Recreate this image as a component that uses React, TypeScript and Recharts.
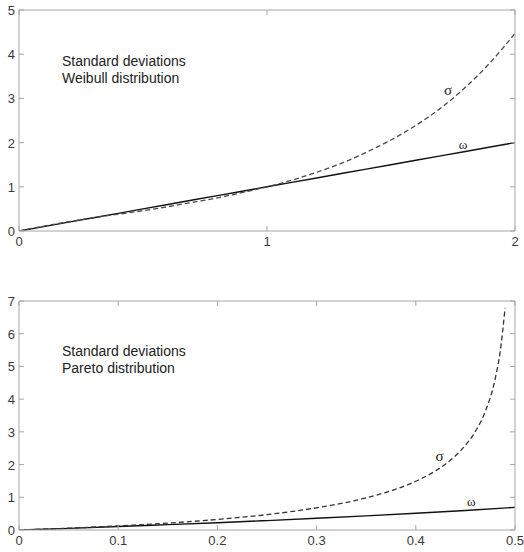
import React from 'react';
import { LineChart, Line, XAxis, YAxis, ReferenceDot } from 'recharts';

// Top panel: Weibull distribution
const weibullX = [0, 0.1, 0.2, 0.3, 0.4, 0.5, 0.6, 0.7, 0.8, 0.9, 1.0, 1.1, 1.2, 1.3, 1.4, 1.5, 1.6, 1.7, 1.8, 1.9, 2.0];
const weibullSigma = [0, 0.11, 0.21, 0.3, 0.38, 0.46, 0.55, 0.65, 0.75, 0.87, 1.0, 1.15, 1.33, 1.53, 1.78, 2.06, 2.39, 2.78, 3.25, 3.81, 4.47];
const weibullOmega = [0, 0.1, 0.2, 0.3, 0.4, 0.5, 0.6, 0.7, 0.8, 0.9, 1.0, 1.1, 1.2, 1.3, 1.4, 1.5, 1.6, 1.7, 1.8, 1.9, 2.0];
const weibullXTicks = [0, 1, 2];
const weibullYTicks = [0, 1, 2, 3, 4, 5];

// Bottom panel: Pareto distribution
const paretoSigmaX = [0, 0.05, 0.1, 0.15, 0.2, 0.25, 0.3, 0.35, 0.4, 0.42, 0.44, 0.45, 0.46, 0.47, 0.48, 0.485, 0.49];
const paretoSigma = [0, 0.056, 0.124, 0.211, 0.323, 0.471, 0.678, 0.983, 1.49, 1.81, 2.27, 2.59, 3.01, 3.62, 4.62, 5.44, 6.79];
const paretoOmegaX = [0, 0.05, 0.1, 0.15, 0.2, 0.25, 0.3, 0.35, 0.4, 0.45, 0.5];
const paretoOmega = [0, 0.051, 0.105, 0.163, 0.223, 0.288, 0.357, 0.431, 0.511, 0.598, 0.693];
const paretoXTicks = [0, 0.1, 0.2, 0.3, 0.4, 0.5];
const paretoYTicks = [0, 1, 2, 3, 4, 5, 6, 7];

const weibullData = weibullX.map((x, i) => ({ x, sigma: weibullSigma[i], omega: weibullOmega[i] }));
const paretoSigmaData = paretoSigmaX.map((x, i) => ({ x, sigma: paretoSigma[i] }));
const paretoOmegaData = paretoOmegaX.map((x, i) => ({ x, omega: paretoOmega[i] }));

const AXIS = '#a6a6a6';
const FONT = 'Liberation Sans, Arial, sans-serif';
const TICK_LEN = 5;

const BottomTick = (p: any) => (
  <g>
    <line x1={p.x} y1={p.y} x2={p.x} y2={p.y - TICK_LEN} stroke={AXIS} strokeWidth={1} />
    <text x={p.x} y={p.y + 15} textAnchor="middle" fontSize={13} fill="#3a3a3a" fontFamily={FONT}>
      {p.payload.value}
    </text>
  </g>
);
const TopTick = (p: any) => (
  <line x1={p.x} y1={p.y} x2={p.x} y2={p.y + TICK_LEN} stroke={AXIS} strokeWidth={1} />
);
const LeftTick = (p: any) => (
  <g>
    <line x1={p.x} y1={p.y} x2={p.x + TICK_LEN} y2={p.y} stroke={AXIS} strokeWidth={1} />
    <text x={p.x - 4} y={p.y + 5} textAnchor="end" fontSize={13} fill="#3a3a3a" fontFamily={FONT}>
      {p.payload.value}
    </text>
  </g>
);
const RightTick = (p: any) => (
  <line x1={p.x} y1={p.y} x2={p.x - TICK_LEN} y2={p.y} stroke={AXIS} strokeWidth={1} />
);

const titleStyle: React.CSSProperties = {
  position: 'absolute',
  left: 62,
  fontFamily: FONT,
  fontSize: 14,
  lineHeight: '17px',
  color: '#222',
  whiteSpace: 'nowrap',
};

function Panel(props: {
  width: number;
  height: number;
  marginTop: number;
  xDomain: number[];
  yDomain: number[];
  xTicks: number[];
  yTicks: number[];
  children: React.ReactNode;
}) {
  const { width, height, marginTop, xDomain, yDomain, xTicks, yTicks, children } = props;
  return (
    <LineChart width={width} height={height} margin={{ top: marginTop, right: 8, left: 0, bottom: 0 }}>
      <XAxis
        xAxisId="b"
        type="number"
        dataKey="x"
        domain={xDomain}
        ticks={xTicks}
        interval={0}
        allowDataOverflow
        height={22}
        stroke={AXIS}
        tickLine={false}
        tickSize={0}
        tickMargin={0}
        tick={BottomTick}
      />
      <XAxis
        xAxisId="t"
        orientation="top"
        type="number"
        dataKey="x"
        domain={xDomain}
        ticks={xTicks}
        interval={0}
        allowDataOverflow
        height={1}
        stroke={AXIS}
        tickLine={false}
        tickSize={0}
        tickMargin={0}
        tick={TopTick}
      />
      <YAxis
        yAxisId="l"
        type="number"
        domain={yDomain}
        ticks={yTicks}
        interval={0}
        allowDataOverflow
        width={19}
        stroke={AXIS}
        tickLine={false}
        tickSize={0}
        tickMargin={0}
        tick={LeftTick}
      />
      <YAxis
        yAxisId="r"
        orientation="right"
        type="number"
        domain={yDomain}
        ticks={yTicks}
        interval={0}
        allowDataOverflow
        width={1}
        stroke={AXIS}
        tickLine={false}
        tickSize={0}
        tickMargin={0}
        tick={RightTick}
      />
      {children}
    </LineChart>
  );
}

export default function App() {
  return (
    <div style={{ position: 'absolute', left: 0, top: 0, width: 524, height: 552, background: '#fff' }}>
      <div style={{ position: 'absolute', left: 0, top: 0 }}>
        <Panel width={524} height={253} marginTop={9} xDomain={[0, 2]} yDomain={[0, 5]} xTicks={weibullXTicks} yTicks={weibullYTicks}>
          <Line
            xAxisId="b"
            yAxisId="l"
            data={weibullData}
            dataKey="omega"
            type="linear"
            stroke="#111"
            strokeWidth={1.4}
            dot={false}
            isAnimationActive={false}
          />
          <Line
            xAxisId="b"
            yAxisId="l"
            data={weibullData}
            dataKey="sigma"
            type="monotone"
            stroke="#4a4a4a"
            strokeWidth={1.3}
            strokeDasharray="5 3"
            dot={false}
            isAnimationActive={false}
          />
          <ReferenceDot
            xAxisId="b"
            yAxisId="l"
            x={1.73}
            y={3.2}
            r={0}
            fill="none"
            stroke="none"
            label={{ value: 'σ', position: 'center', fontSize: 15, fill: '#222', fontFamily: 'Liberation Serif, Times New Roman, serif' }}
          />
          <ReferenceDot
            xAxisId="b"
            yAxisId="l"
            x={1.79}
            y={1.97}
            r={0}
            fill="none"
            stroke="none"
            label={{ value: 'ω', position: 'center', fontSize: 13, fill: '#222', fontFamily: 'Liberation Serif, Times New Roman, serif' }}
          />
        </Panel>
        <div style={{ ...titleStyle, top: 53 }}>
          Standard deviations
          <br />
          Weibull distribution
        </div>
      </div>
      <div style={{ position: 'absolute', left: 0, top: 290 }}>
        <Panel width={524} height={262} marginTop={10} xDomain={[0, 0.5]} yDomain={[0, 7]} xTicks={paretoXTicks} yTicks={paretoYTicks}>
          <Line
            xAxisId="b"
            yAxisId="l"
            data={paretoOmegaData}
            dataKey="omega"
            type="monotone"
            stroke="#111"
            strokeWidth={1.4}
            dot={false}
            isAnimationActive={false}
          />
          <Line
            xAxisId="b"
            yAxisId="l"
            data={paretoSigmaData}
            dataKey="sigma"
            type="monotone"
            stroke="#333"
            strokeWidth={1.3}
            strokeDasharray="5 3"
            dot={false}
            isAnimationActive={false}
          />
          <ReferenceDot
            xAxisId="b"
            yAxisId="l"
            x={0.424}
            y={2.26}
            r={0}
            fill="none"
            stroke="none"
            label={{ value: 'σ', position: 'center', fontSize: 15, fill: '#222', fontFamily: 'Liberation Serif, Times New Roman, serif' }}
          />
          <ReferenceDot
            xAxisId="b"
            yAxisId="l"
            x={0.456}
            y={0.86}
            r={0}
            fill="none"
            stroke="none"
            label={{ value: 'ω', position: 'center', fontSize: 13, fill: '#222', fontFamily: 'Liberation Serif, Times New Roman, serif' }}
          />
        </Panel>
        <div style={{ ...titleStyle, top: 53 }}>
          Standard deviations
          <br />
          Pareto distribution
        </div>
      </div>
    </div>
  );
}
